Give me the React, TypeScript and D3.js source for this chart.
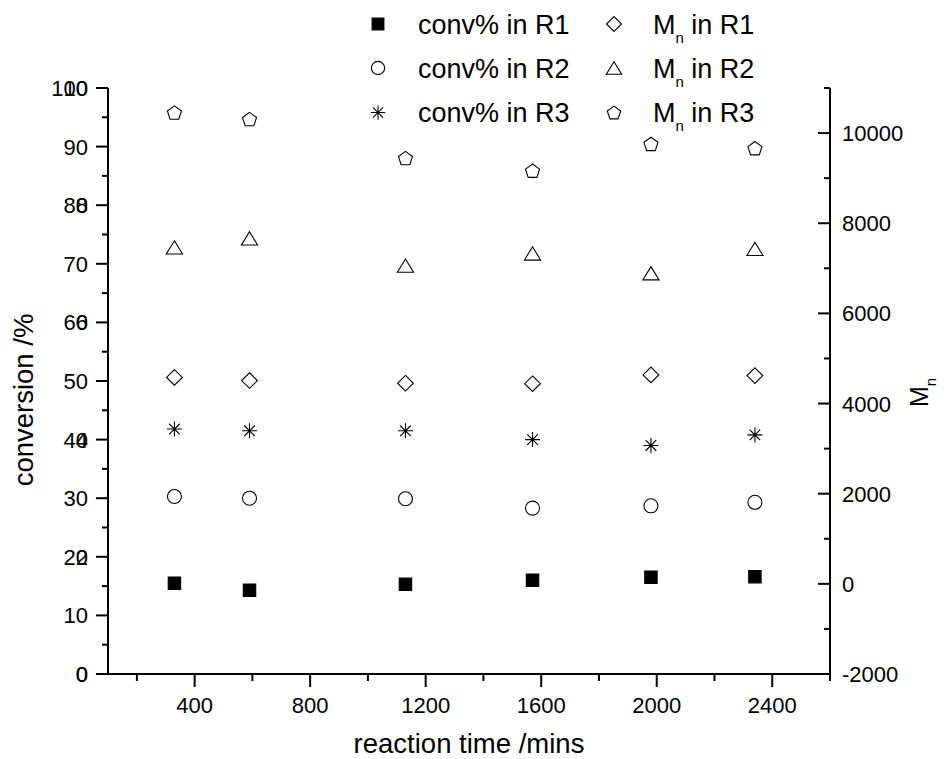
import React from "react";
import * as d3 from "d3";

// Reaction time (min) for each sampling point
const times = [330, 590, 1130, 1570, 1980, 2340];
// Conversion (%) per reactor
const convR1 = [15.5, 14.3, 15.3, 16.0, 16.5, 16.6];
const convR2 = [30.3, 30.0, 29.9, 28.3, 28.7, 29.3];
const convR3 = [41.8, 41.5, 41.5, 40.0, 39.0, 40.8];
// Number-average molar mass per reactor
const mnR1 = [4580, 4510, 4450, 4440, 4635, 4620];
const mnR2 = [7465, 7665, 7060, 7330, 6890, 7430];
const mnR3 = [10455, 10310, 9445, 9165, 9760, 9665];

const xTicks = [400, 800, 1200, 1600, 2000, 2400];
const xMinor = [200, 600, 1000, 1400, 1800, 2200, 2600];
const convTicks = [0, 10, 20, 30, 40, 50, 60, 70, 80, 90, 100];
const convMinor = [5, 15, 25, 35, 45, 55, 65, 75, 85, 95];
const auxTicks = [0, 2, 4, 6, 8, 10];
const mnTicks = [-2000, 0, 2000, 4000, 6000, 8000, 10000];
const mnMinor = [-1000, 1000, 3000, 5000, 7000, 9000, 11000];

const FONT = "'Liberation Sans', Arial, sans-serif";

const left = 108;
const right = 830;
const top = 88;
const bottom = 674;

const x = d3.scaleLinear().domain([100, 2600]).range([left, right]);
const yConv = d3.scaleLinear().domain([0, 100]).range([bottom, top]);
const yAux = d3.scaleLinear().domain([0, 10]).range([bottom, top]);
const yMn = d3.scaleLinear().domain([-2000, 11000]).range([bottom, top]);

type Shape = "square" | "circle" | "star" | "diamond" | "triangle" | "pentagon";

function marker(shape: Shape, s: number): { d: string; fill: string } {
  const p = d3.path();
  if (shape === "square") {
    const h = 6.2 * s;
    p.rect(-h, -h, 2 * h, 2 * h);
    return { d: p.toString(), fill: "#000" };
  }
  if (shape === "circle") {
    const r = 7 * s;
    p.moveTo(r, 0);
    p.arc(0, 0, r, 0, Math.PI * 2);
    p.closePath();
    return { d: p.toString(), fill: "none" };
  }
  if (shape === "diamond") {
    const w = 7.9 * s;
    const h = 7.8 * s;
    p.moveTo(0, -h);
    p.lineTo(w, 0);
    p.lineTo(0, h);
    p.lineTo(-w, 0);
    p.closePath();
    return { d: p.toString(), fill: "none" };
  }
  if (shape === "triangle") {
    const w = 8.1 * s;
    const h = 13.3 * s;
    p.moveTo(0, -h / 2);
    p.lineTo(w, h / 2);
    p.lineTo(-w, h / 2);
    p.closePath();
    return { d: p.toString(), fill: "none" };
  }
  if (shape === "pentagon") {
    const r = 7.4 * s;
    for (let i = 0; i < 5; i++) {
      const a = -Math.PI / 2 + (i * 2 * Math.PI) / 5;
      const px = r * Math.cos(a);
      const py = r * Math.sin(a) + 0.7 * s;
      if (i === 0) p.moveTo(px, py);
      else p.lineTo(px, py);
    }
    p.closePath();
    return { d: p.toString(), fill: "none" };
  }
  // eight-armed asterisk
  const r = 7.5 * s;
  for (let i = 0; i < 4; i++) {
    const a = (i * Math.PI) / 4;
    p.moveTo(-r * Math.cos(a), -r * Math.sin(a));
    p.lineTo(r * Math.cos(a), r * Math.sin(a));
  }
  return { d: p.toString(), fill: "none" };
}

type Series = {
  label: string;
  sub: boolean;
  values: number[];
  axis: "conv" | "mn";
  shape: Shape;
};

const series: Series[] = [
  { label: "conv% in R1", sub: false, values: convR1, axis: "conv", shape: "square" },
  { label: "conv% in R2", sub: false, values: convR2, axis: "conv", shape: "circle" },
  { label: "conv% in R3", sub: false, values: convR3, axis: "conv", shape: "star" },
  { label: " in R1", sub: true, values: mnR1, axis: "mn", shape: "diamond" },
  { label: " in R2", sub: true, values: mnR2, axis: "mn", shape: "triangle" },
  { label: " in R3", sub: true, values: mnR3, axis: "mn", shape: "pentagon" },
];

const legendRows = [24, 68, 112.5];
const legendCols = [378, 614];

export default function App() {
  const tickFont = 22;
  return (
    <svg
      width={945}
      height={759}
      style={{ position: "absolute", left: 0, top: 0, background: "#fff" }}
      fontFamily={FONT}
    >
      <rect width={945} height={759} fill="#fff" />

      {/* data markers */}
      {series.map((s, si) => {
        const m = marker(s.shape, 1);
        const yS = s.axis === "conv" ? yConv : yMn;
        return (
          <g key={si}>
            {s.values.map((v, i) => (
              <path
                key={i}
                d={m.d}
                transform={`translate(${x(times[i])},${yS(v)})`}
                fill={m.fill}
                stroke="#000"
                strokeWidth={1.1}
              />
            ))}
          </g>
        );
      })}

      {/* bottom axis */}
      <g stroke="#000" strokeWidth={2}>
        <line x1={left - 1} x2={right + 1} y1={bottom} y2={bottom} />
        {xTicks.map((t) => (
          <line key={t} x1={x(t)} x2={x(t)} y1={bottom} y2={bottom + 13} />
        ))}
        {xMinor.map((t) => (
          <line key={t} x1={x(t)} x2={x(t)} y1={bottom} y2={bottom + 7} />
        ))}
      </g>
      {xTicks.map((t) => (
        <text key={t} x={x(t)} y={bottom + 39} fontSize={tickFont} textAnchor="middle">
          {t}
        </text>
      ))}
      <text x={(left + right) / 2} y={753} fontSize={27.5} textAnchor="middle">
        reaction time /mins
      </text>

      {/* left axis */}
      <g stroke="#000" strokeWidth={2}>
        <line x1={left} x2={left} y1={top} y2={bottom} />
        {convTicks.map((t) => (
          <line key={t} x1={left - 12} x2={left} y1={yConv(t)} y2={yConv(t)} />
        ))}
        {convMinor.map((t) => (
          <line key={t} x1={left - 6} x2={left} y1={yConv(t)} y2={yConv(t)} />
        ))}
      </g>
      {convTicks.map((t) => (
        <text key={t} x={left - 20} y={yConv(t) + 8} fontSize={tickFont} textAnchor="end">
          {t}
        </text>
      ))}
      {auxTicks.map((t) => (
        <text key={t} x={left - 20} y={yAux(t) + 8} fontSize={tickFont} textAnchor="end">
          {t}
        </text>
      ))}
      <text transform={`translate(33,400) rotate(-90)`} fontSize={27.5} textAnchor="middle">
        conversion /%
      </text>

      {/* right axis */}
      <g stroke="#000" strokeWidth={2}>
        <line x1={right} x2={right} y1={top} y2={bottom} />
        {mnTicks.map((t) => (
          <line key={t} x1={right - 12} x2={right} y1={yMn(t)} y2={yMn(t)} />
        ))}
        {mnMinor.map((t) => (
          <line key={t} x1={right - 6} x2={right} y1={yMn(t)} y2={yMn(t)} />
        ))}
      </g>
      {mnTicks.map((t) => (
        <text key={t} x={right + 12} y={yMn(t) + 8} fontSize={tickFont} textAnchor="start">
          {t}
        </text>
      ))}
      <text transform={`translate(928,407) rotate(-90)`} fontSize={25}>
        M
        <tspan fontSize={15} dy={8}>
          n
        </tspan>
      </text>

      {/* legend */}
      {series.map((s, si) => {
        const col = si < 3 ? 0 : 1;
        const row = si % 3;
        const sx = legendCols[col];
        const sy = legendRows[row];
        const m = marker(s.shape, 0.95);
        return (
          <g key={si}>
            <path
              d={m.d}
              transform={`translate(${sx},${sy})`}
              fill={m.fill}
              stroke="#000"
              strokeWidth={1.1}
            />
            {s.sub ? (
              <text x={sx + 39} y={sy + 9.5} fontSize={27}>
                M
                <tspan fontSize={15} dy={9}>
                  n
                </tspan>
                <tspan dy={-9}>{s.label}</tspan>
              </text>
            ) : (
              <text x={sx + 40} y={sy + 9.5} fontSize={27}>
                {s.label}
              </text>
            )}
          </g>
        );
      })}
    </svg>
  );
}
